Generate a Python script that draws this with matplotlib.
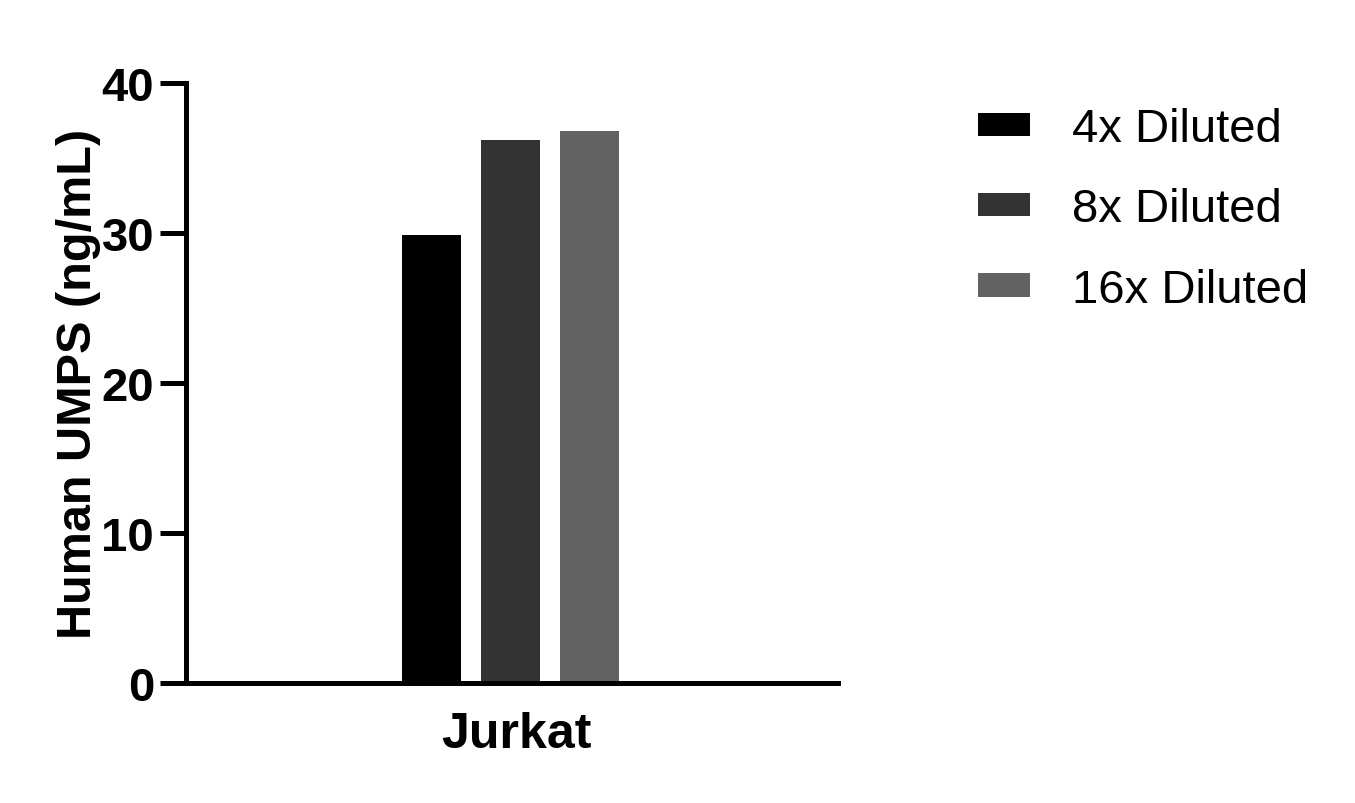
import matplotlib

matplotlib.use("Agg")
import matplotlib.pyplot as plt
from matplotlib.patches import Patch
from matplotlib.transforms import ScaledTranslation

categories = ["Jurkat"]
series = ["4x Diluted", "8x Diluted", "16x Diluted"]
values = [29.9, 36.2, 36.8]
colors = ["#000000", "#333333", "#626262"]
yticks = [0, 10, 20, 30, 40]

plt.rcParams["font.family"] = ["Liberation Sans", "DejaVu Sans"]

fig = plt.figure(figsize=(13.55, 8.04), dpi=100)
ax = fig.add_axes([0.1373, 0.1493, 0.4812, 0.7462])

offsets = [-1.0, 0.0, 1.0]
for off, val, col, name in zip(offsets, values, colors, series):
    ax.bar(0 + off, val, width=0.75, color=col, label=name)

ax.set_xlim(-4.12, 4.16)
ax.set_ylim(0, 40)
ax.set_yticks(yticks)
ax.set_xticks([0])
ax.set_xticklabels(categories)
ax.tick_params(axis="x", length=0, pad=20)
ax.tick_params(axis="y", length=19, width=3.6, pad=4)
for lab in ax.get_yticklabels():
    lab.set_fontsize(34)
    lab.set_fontweight("bold")
for lab in ax.get_xticklabels():
    lab.set_fontsize(36)
    lab.set_fontweight("bold")
    # nudge the category label a little right, as in the original
    lab.set_transform(lab.get_transform() + ScaledTranslation(0.06, 0, fig.dpi_scale_trans))

ax.set_ylabel("Human UMPS (ng/mL)", fontsize=35, fontweight="bold", labelpad=0)

for side in ["top", "right"]:
    ax.spines[side].set_visible(False)
for side in ["left", "bottom"]:
    ax.spines[side].set_linewidth(3.6)

handles = [Patch(facecolor=c, edgecolor="none") for c in colors]
fig.legend(handles, series, loc="upper left", bbox_to_anchor=(0.7076, 0.889),
           frameon=False, fontsize=34, handlelength=1.1, handleheight=0.38,
           handletextpad=0.9, labelspacing=0.77, borderaxespad=0)

fig.savefig("out.png", dpi=100)
